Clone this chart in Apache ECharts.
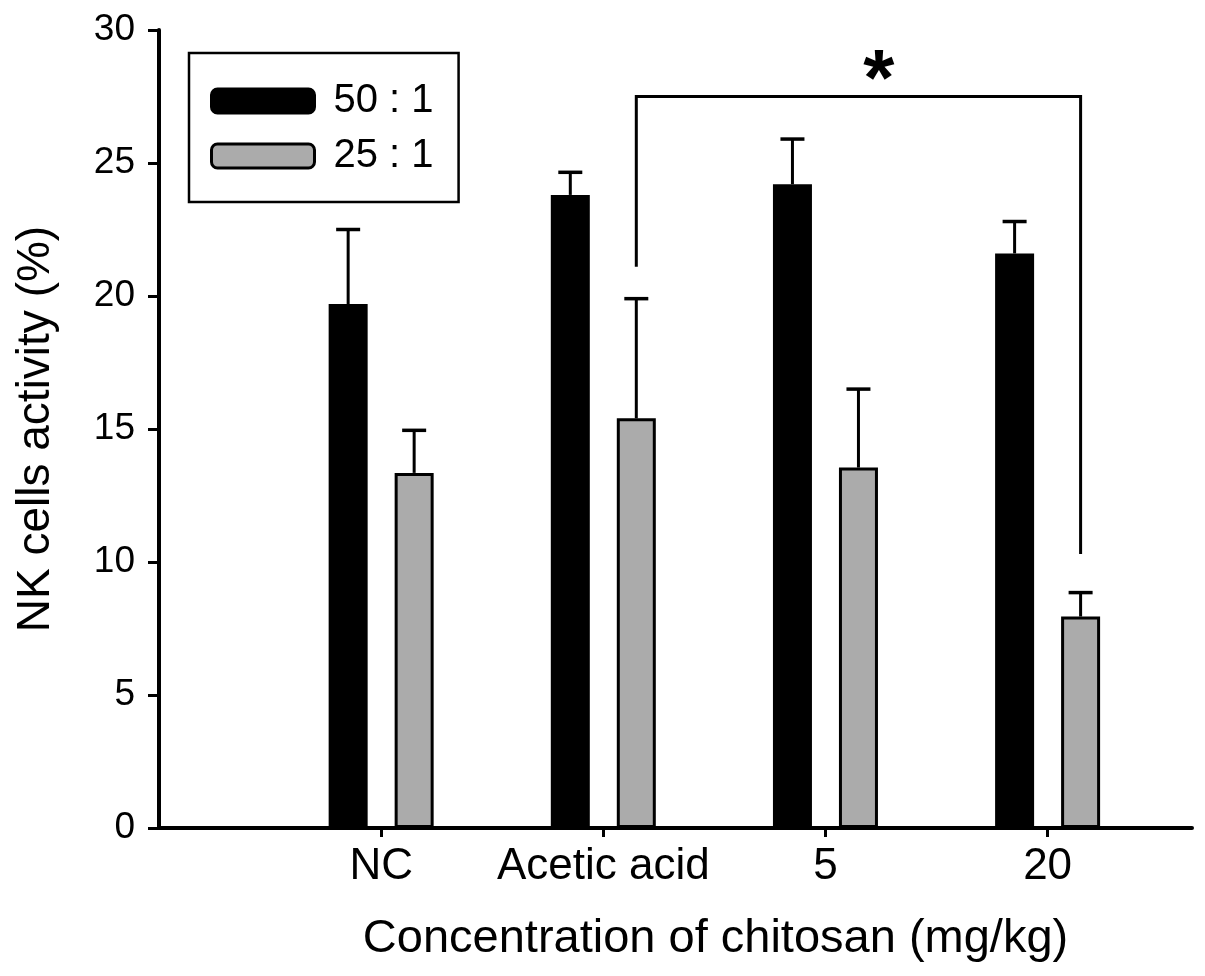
<!DOCTYPE html>
<html><head><meta charset="utf-8">
<style>html,body{margin:0;padding:0;background:#fff}#chart{width:1205px;height:976px}</style>
<script src="https://cdn.jsdelivr.net/npm/echarts@6/dist/echarts.min.js"></script>
</head><body><div id="chart"></div>
<script>
// ---- data ----
const categories = ['NC', 'Acetic acid', '5', '20'];
const seriesNames = ['50 : 1', '25 : 1'];
const ratio50 = [19.7, 23.8, 24.2, 21.6];
const ratio50Err = [2.8, 0.85, 1.7, 1.2];
const ratio25 = [13.35, 15.4, 13.55, 7.95];
const ratio25Err = [1.6, 4.5, 2.95, 0.9];
const yTicks = [0, 5, 10, 15, 20, 25, 30];
const bracket = { from: 'Acetic acid', to: '20', top: 27.5, leftEnd: 21.1, rightEnd: 10.3, mark: '*' };

// ---- style ----
const FONT = 'Liberation Sans, Arial, Helvetica, sans-serif';
const BAR_W = 39, BAR_GAP = 27;
const OFFSET = (BAR_W + BAR_GAP) / 2;
const GRAY = '#ababab';
const catPos = categories.map((c, i) => i + 1);

function errorSeries(values, errs, dx) {
  return {
    type: 'custom',
    z: 1,
    silent: true,
    encode: { x: 0, y: [1, 2] },
    data: values.map((v, i) => [catPos[i], v, v + errs[i]]),
    renderItem(params, api) {
      const x = api.value(0);
      const base = api.coord([x, api.value(1)]);
      const top = api.coord([x, api.value(2)]);
      const cx = base[0] + dx;
      return {
        type: 'group',
        children: [
          { type: 'line', shape: { x1: cx, y1: base[1], x2: cx, y2: top[1] }, style: { stroke: '#000', lineWidth: 3 } },
          { type: 'line', shape: { x1: cx - 12, y1: top[1], x2: cx + 12, y2: top[1] }, style: { stroke: '#000', lineWidth: 3.5 } }
        ]
      };
    }
  };
}

const chart = echarts.init(document.getElementById('chart'), null, { renderer: 'canvas' });
chart.setOption({
  backgroundColor: '#fff',
  animation: false,
  textStyle: { fontFamily: FONT, color: '#000' },
  grid: { left: 159, right: 13, top: 30, bottom: 148 },
  legend: {
    orient: 'vertical',
    left: 189, top: 53,
    selectedMode: false,
    itemWidth: 103, itemHeight: 24, itemGap: 15,
    padding: [28, 25, 26, 21],
    borderColor: '#000', borderWidth: 2.5,
    textStyle: { fontSize: 40, color: '#000', fontFamily: FONT, padding: [0, 0, 0, 14], lineHeight: 40 },
    data: [
      { name: seriesNames[0], icon: 'roundRect', itemStyle: { color: '#000', borderColor: '#000', borderWidth: 3 } },
      { name: seriesNames[1], icon: 'roundRect', itemStyle: { color: GRAY, borderColor: '#000', borderWidth: 3 } }
    ]
  },
  xAxis: {
    type: 'value',
    min: 0, max: 4.65,
    name: 'Concentration of chitosan (mg/kg)',
    nameLocation: 'middle', nameGap: 88,
    nameTextStyle: { fontSize: 47, color: '#000', fontFamily: FONT, padding: [0, 0, 0, 80] },
    axisLine: { lineStyle: { color: '#000', width: 4 } },
    axisTick: { show: true, customValues: catPos, length: 9, lineStyle: { color: '#000', width: 3 } },
    axisLabel: { customValues: catPos, formatter: v => categories[Math.round(v) - 1] || '', fontSize: 44, color: '#000', margin: 17, fontFamily: FONT },
    splitLine: { show: false }
  },
  yAxis: {
    type: 'value',
    min: yTicks[0], max: yTicks[yTicks.length - 1], interval: 5,
    name: 'NK cells activity (%)',
    nameLocation: 'middle', nameGap: 100,
    nameTextStyle: { fontSize: 46, color: '#000', fontFamily: FONT },
    axisLine: { show: true, lineStyle: { color: '#000', width: 4 } },
    axisTick: { show: true, length: 11, lineStyle: { color: '#000', width: 3 } },
    axisLabel: { fontSize: 37, color: '#000', margin: 24, fontFamily: FONT },
    splitLine: { show: false }
  },
  series: [
    {
      name: seriesNames[0], type: 'bar', barWidth: BAR_W, barGap: (BAR_GAP / BAR_W * 100) + '%',
      itemStyle: { color: '#000', borderColor: '#000', borderWidth: 3 },
      data: ratio50.map((v, i) => [catPos[i], v]), z: 2
    },
    {
      name: seriesNames[1], type: 'bar', barWidth: BAR_W, barGap: (BAR_GAP / BAR_W * 100) + '%',
      itemStyle: { color: GRAY, borderColor: '#000', borderWidth: 3 },
      data: ratio25.map((v, i) => [catPos[i], v]), z: 2
    },
    errorSeries(ratio50, ratio50Err, -OFFSET),
    errorSeries(ratio25, ratio25Err, OFFSET),
    {
      type: 'custom', silent: true, z: 3,
      encode: { x: [0, 1], y: [2, 3, 4] },
      data: [[catPos[categories.indexOf(bracket.from)], catPos[categories.indexOf(bracket.to)], bracket.top, bracket.leftEnd, bracket.rightEnd]],
      renderItem(params, api) {
        const pTopL = api.coord([api.value(0), api.value(2)]);
        const pTopR = api.coord([api.value(1), api.value(2)]);
        const pL = api.coord([api.value(0), api.value(3)]);
        const pR = api.coord([api.value(1), api.value(4)]);
        const xl = pTopL[0] + OFFSET, xr = pTopR[0] + OFFSET, yt = pTopL[1];
        return {
          type: 'group',
          children: [
            { type: 'polyline', shape: { points: [[xl, pL[1]], [xl, yt], [xr, yt], [xr, pR[1]]] }, style: { stroke: '#000', lineWidth: 3, fill: null } },
            { type: 'text', x: xl + (xr - xl) * 0.546, y: yt + 26, style: { text: bracket.mark, fontSize: 80, fontWeight: 'bold', fontFamily: FONT, fill: '#000', align: 'center', verticalAlign: 'bottom' } }
          ]
        };
      }
    }
  ]
});
</script>
</body></html>
